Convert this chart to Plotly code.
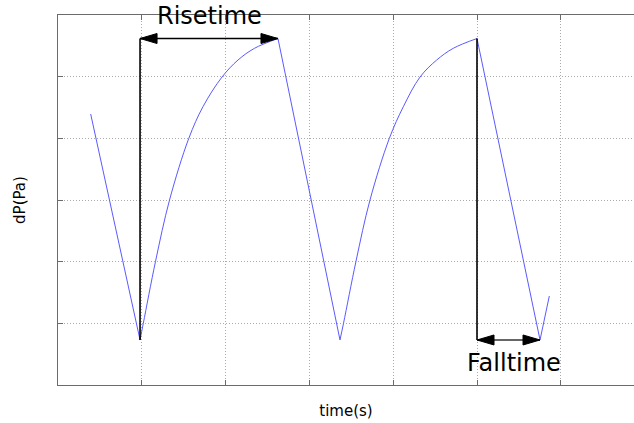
import plotly.graph_objects as go

# Pressure-difference waveform, split into its straight falls and curved rises.
# Time and dP are in grid units (one unit per gridline interval).
lead_t = [0.390, 0.979]
lead_p = [4.394, 0.730]

rise1_t = [0.979, 1.018, 1.164, 1.331, 1.561, 1.730, 1.957, 2.148, 2.345, 2.625]
rise1_p = [0.730, 1.000, 2.006, 3.000, 4.000, 4.513, 4.994, 5.270, 5.460, 5.619]

fall1_t = [2.625, 3.365]
fall1_p = [5.619, 0.730]

rise2_t = [3.365, 3.407, 3.556, 3.723, 3.954, 4.121, 4.320, 4.519, 4.717, 5.000]
rise2_p = [0.730, 1.000, 2.006, 3.000, 4.000, 4.513, 4.994, 5.270, 5.460, 5.619]

fall2_t = [5.000, 5.752, 5.863]
fall2_p = [5.619, 0.730, 1.443]

BLUE = "#5a5aff"
AXIS = "#6b6b6b"
GRID = "#ababab"

fig = go.Figure()

segments = [
    (lead_t, lead_p, "linear"),
    (rise1_t, rise1_p, "spline"),
    (fall1_t, fall1_p, "linear"),
    (rise2_t, rise2_p, "spline"),
    (fall2_t, fall2_p, "linear"),
]
for t, p, shape in segments:
    fig.add_trace(go.Scatter(
        x=t, y=p, mode="lines",
        line=dict(color=BLUE, width=1, shape=shape, smoothing=1.0),
        showlegend=False, hoverinfo="skip",
    ))

# Rise time: from the first minimum up to the following peak
r_start, r_end = rise1_t[0], rise1_t[-1]
r_low, r_high = rise1_p[0], rise1_p[-1]
# Fall time: from the second peak down to the following minimum
f_start, f_end = fall2_t[0], fall2_t[1]
f_high, f_low = fall2_p[0], fall2_p[1]

shapes = []


def vline(x, y0, y1):
    shapes.append(dict(type="line", xref="x", yref="y", x0=x, x1=x, y0=y0, y1=y1,
                       line=dict(color="black", width=1.6), layer="above"))


def double_arrow(x0, x1, y, color, width):
    shapes.append(dict(type="line", xref="x", yref="y", x0=x0, x1=x1, y0=y, y1=y,
                       line=dict(color=color, width=width), layer="above"))
    # pointed heads drawn in pixels around each tip
    for tip, path in ((x0, "M0,0 L17,5 L17,-5 Z"), (x1, "M0,0 L-17,5 L-17,-5 Z")):
        shapes.append(dict(type="path", xref="x", yref="y",
                           xsizemode="pixel", ysizemode="pixel",
                           xanchor=tip, yanchor=y, path=path,
                           fillcolor="black", line=dict(color="black", width=1),
                           layer="above"))


vline(r_start, r_low, r_high)
double_arrow(r_start, r_end, r_high, "black", 1.6)
vline(f_start, f_high, f_low)
double_arrow(f_start, f_end, f_low, "#333333", 1.3)

label_font = dict(family="DejaVu Sans", size=24, color="black")
annotations = [
    dict(x=(r_start + r_end) / 2, y=r_high, xref="x", yref="y", text="Risetime",
         showarrow=False, font=label_font, yanchor="middle", yshift=23),
    dict(x=(f_start + f_end) / 2, y=f_low, xref="x", yref="y", text="Falltime",
         showarrow=False, font=label_font, yanchor="middle", xshift=5, yshift=-23),
]

axis_common = dict(
    showline=True, linecolor=AXIS, linewidth=1,
    ticks="inside", ticklen=5, tickcolor=AXIS, tickwidth=1,
    showticklabels=False,
    showgrid=True, gridcolor=GRID, gridwidth=1, griddash="1px,2px",
    zeroline=False, tick0=0, dtick=1,
)

title_font = dict(family="DejaVu Sans", size=15, color="black")
fig.update_layout(
    width=634, height=423,
    margin=dict(l=58, r=0, t=15, b=38),
    paper_bgcolor="white", plot_bgcolor="white",
    shapes=shapes, annotations=annotations,
    xaxis=dict(range=[0, 576 / 83.8], mirror="ticks",
               title=dict(text="time(s)", standoff=20, font=title_font),
               **axis_common),
    yaxis=dict(range=[0, 6], mirror=False,
               title=dict(text="dP(Pa)", standoff=27, font=title_font),
               **axis_common),
)

fig.write_html("out.html")
